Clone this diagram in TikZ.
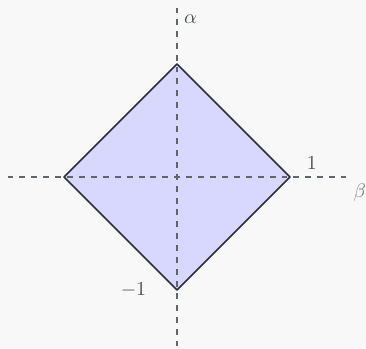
\documentclass[tikz,border=0pt]{standalone}
\usepackage{amsmath}
\usepackage{amssymb}
\usepackage{xcolor}
\usepackage{tikz}
\definecolor{PageGray}{HTML}{F8F8F8}
\definecolor{AxisGray}{HTML}{60656A}
\definecolor{LabelGray}{HTML}{4A4F55}
\definecolor{EdgeNavy}{HTML}{27303D}
\definecolor{DiamondFill}{HTML}{D8D8FF}

\begin{document}
\begin{tikzpicture}[scale=2]
  \fill[PageGray] (-1.5664,-1.5133) rectangle (1.6726,1.5664);
  \useasboundingbox (-1.5664,-1.5133) rectangle (1.6726,1.5664);
  \coordinate (right) at (1,0);
  \coordinate (top) at (0,1);
  \coordinate (left) at (-1,0);
  \coordinate (bottom) at (0,-1);
  \fill[DiamondFill] (right) -- (top) -- (left) -- (bottom) -- cycle;
  \draw[AxisGray, dashed, semithick] (-1.5,0) -- (1.5,0) coordinate (xend);
  \draw[AxisGray, dashed, semithick] (0,-1.5) -- (0,1.5) coordinate (yend);
  \draw[EdgeNavy, thick, line join=round] (right) -- (top) -- (left) -- (bottom) -- cycle;
  \node[gray, below right] (beta) at (xend) {$\beta$};
  \node[LabelGray, below right] (alpha) at (yend) {$\alpha$};
  \node[LabelGray, above right, xshift=5pt] (one) at (right) {$1$};
  \node[LabelGray, left, xshift=-12pt] (minusone) at (bottom) {$-1$};
\end{tikzpicture}
\end{document}
